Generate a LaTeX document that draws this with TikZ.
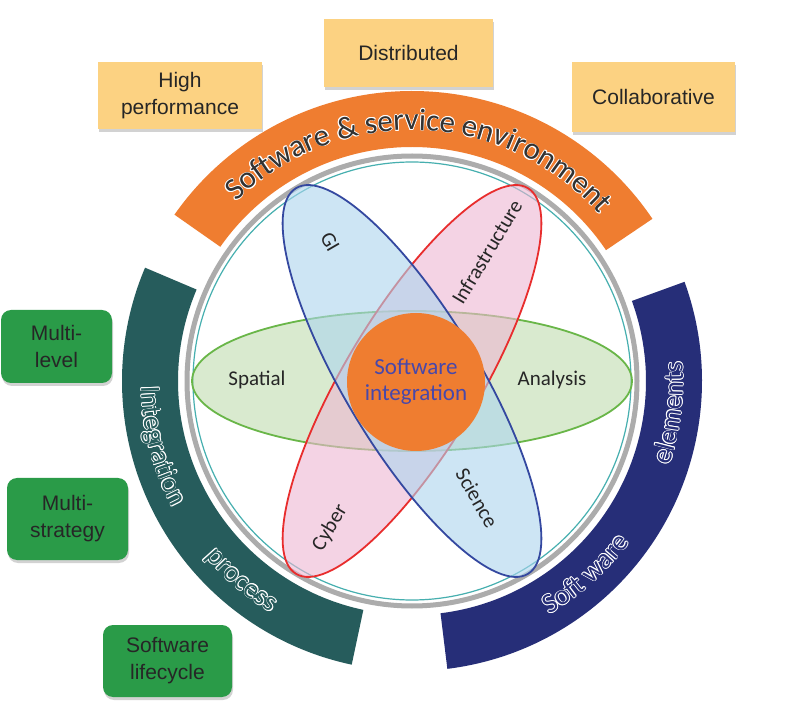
\documentclass[tikz,border=0pt]{standalone}
\usepackage{fontspec}
\setmainfont{Liberation Sans}
\newfontfamily\calfont{Carlito}
\usetikzlibrary{decorations.text,shadows}
\definecolor{envorange}{RGB}{239,125,48}
\definecolor{intteal}{RGB}{38,92,92}
\definecolor{elnavy}{RGB}{38,46,120}
\definecolor{boxyellow}{RGB}{252,210,130}
\definecolor{boxgreen}{RGB}{42,155,72}
\definecolor{ringgray}{RGB}{172,172,172}
\definecolor{ringteal}{RGB}{70,175,175}
\definecolor{coretext}{RGB}{72,72,170}
\definecolor{textdark}{RGB}{50,50,50}
\tikzset{
	ybox/.style={rectangle,fill=boxyellow,inner sep=0pt,align=center,text=black!85,font=\fontsize{21}{27}\selectfont,drop shadow={shadow xshift=1pt,shadow yshift=-3pt,opacity=.35}},
	gbox/.style={ybox,fill=boxgreen,rounded corners=10pt},
	lbl/.style={font=\calfont\fontsize{21}{25}\selectfont,text=black!85},
	core/.style={circle,fill=envorange,minimum size=138pt,inner sep=0pt,align=center,text=coretext,font=\calfont\fontsize{23}{26}\selectfont},
	greenell/.style={draw={rgb,255:red,105;green,182;blue,72},line width=1.8pt,fill={rgb,255:red,192;green,220;blue,175},fill opacity=.6},
	redell/.style={draw={rgb,255:red,232;green,45;blue,45},line width=1.8pt,fill={rgb,255:red,238;green,183;blue,210},fill opacity=.6},
	blueell/.style={draw={rgb,255:red,52;green,72;blue,160},line width=1.8pt,fill={rgb,255:red,172;green,213;blue,238},fill opacity=.6}
}
\newcommand\ringband[3]{\fill[#1] (C) ++(#2:234pt) arc[start angle=#2,end angle=#3,radius=234pt] -- ++(#3:56pt) arc[start angle=#3,end angle=#2,radius=290pt] -- cycle;}
\newcommand\bandtext[6]{%
	\foreach \dr/\da in {0.7/0,-0.7/0,0/0.16,0/-0.16,0.5/0.11,0.5/-0.11,-0.5/0.11,-0.5/-0.11}{
		\path[decorate,decoration={text along path,text align=center,raise=\dr pt,text color=white,text={|#4|#6}}] (C) ++(#2+\da:#1) arc[start angle=#2+\da,end angle=#3+\da,radius=#1];
	}
	\path[decorate,decoration={text along path,text align=center,text color=#5,text={|#4|#6}}] (C) ++(#2:#1) arc[start angle=#2,end angle=#3,radius=#1];
}

\begin{document}
\begin{tikzpicture}[x=1pt,y=1pt]
	\useasboundingbox[fill=white] (0,0) rectangle (804,716);
	\coordinate (C) at (412,335);

	\ringband{envorange}{145}{34}
	\ringband{intteal}{157}{258}
	\ringband{elnavy}{-83}{20}

	\bandtext{251pt}{148}{28}{\calfont\fontsize{31}{31}\selectfont}{textdark}{Software {\&} service environment}
	\bandtext{271pt}{174.5}{214.5}{\calfont\fontsize{28}{28}\selectfont}{intteal}{Integration}
	\bandtext{271pt}{214}{245}{\calfont\fontsize{28}{28}\selectfont}{intteal}{process}
	\bandtext{271pt}{-63}{-33}{\calfont\fontsize{28}{28}\selectfont}{elnavy}{Soft ware}
	\bandtext{271pt}{-22}{8}{\calfont\fontsize{28}{28}\selectfont}{elnavy}{elements}

	\draw[ringgray,line width=5pt] (C) circle[radius=225pt];
	\draw[ringteal,line width=1.2pt] (C) circle[radius=219pt];

	\draw[greenell] (C) ellipse[x radius=220pt,y radius=70pt];
	\draw[redell,rotate around={59:(C)}] (C) ellipse[x radius=225pt,y radius=67pt];
	\draw[blueell,rotate around={-59:(C)}] (C) ellipse[x radius=225pt,y radius=67pt];

	\node[core] (core) at (416,334) {Software\\integration};
	\node[lbl] (spatial) at (257,336) {Spatial};
	\node[lbl] (analysis) at (552,336) {Analysis};
	\node[lbl,rotate=-60] (gi) at (330,474) {GI};
	\node[lbl,rotate=-60] (science) at (477,218) {Science};
	\node[lbl,rotate=59] (infra) at (487,464) {Infrastructure};
	\node[lbl,rotate=59] (cyber) at (330,188) {Cyber};

	\node[ybox,minimum width=164pt,minimum height=67pt] (hiperf) at (180,620.5) {High\\performance};
	\node[ybox,minimum width=169pt,minimum height=68pt] (distrib) at (408.5,663) {Distributed};
	\node[ybox,minimum width=163pt,minimum height=70pt] (collab) at (653.5,619) {Collaborative};
	\node[gbox,minimum width=111pt,minimum height=73pt] (mlevel) at (56.5,369.5) {Multi-\\level};
	\node[gbox,minimum width=121pt,minimum height=82pt] (mstrat) at (67.5,197) {Multi-\\strategy};
	\node[gbox,minimum width=129pt,minimum height=72pt] (lifecyc) at (167.5,55) {Software\\lifecycle};
\end{tikzpicture}
\end{document}
